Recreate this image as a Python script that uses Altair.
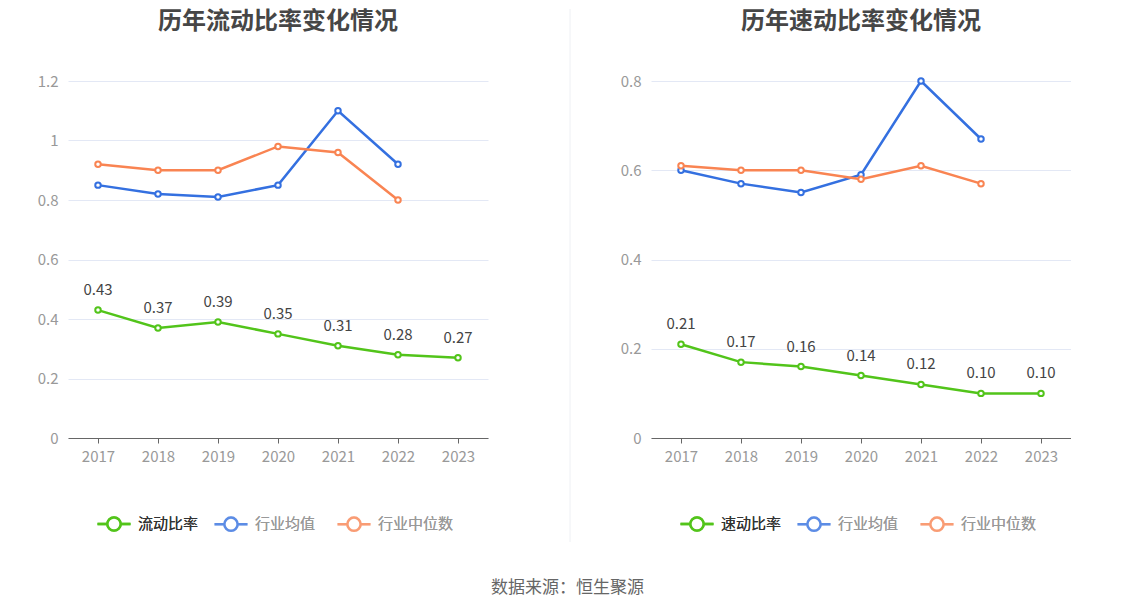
import altair as alt
import pandas as pd

years = ["2017", "2018", "2019", "2020", "2021", "2022", "2023"]

current_ratio = [0.43, 0.37, 0.39, 0.35, 0.31, 0.28, 0.27]
current_mean = [0.85, 0.82, 0.81, 0.85, 1.10, 0.92]
current_median = [0.92, 0.90, 0.90, 0.98, 0.96, 0.80]

quick_ratio = [0.21, 0.17, 0.16, 0.14, 0.12, 0.10, 0.10]
quick_mean = [0.60, 0.57, 0.55, 0.59, 0.80, 0.67]
quick_median = [0.61, 0.60, 0.60, 0.58, 0.61, 0.57]

GREEN = "#52c41a"
BLUE = "#3470e0"
ORANGE = "#f98452"
FONT = "Noto Sans CJK SC"

SYM = "M-1,0L-0.4,0M0.4,0L1,0M-0.4,0A0.4,0.4 0 1,0 0.4,0A0.4,0.4 0 1,0 -0.4,0Z"


def panel(title, main_name, main_vals, mean_vals, median_vals, ymax, yvals):
    main_df = pd.DataFrame({"year": years, "value": main_vals, "series": main_name})
    ind_df = pd.concat([
        pd.DataFrame({"year": years[:len(mean_vals)], "value": mean_vals, "series": "行业均值"}),
        pd.DataFrame({"year": years[:len(median_vals)], "value": median_vals, "series": "行业中位数"}),
    ])
    x = alt.X("year:O", title=None, sort=years,
              scale=alt.Scale(domain=years, paddingOuter=0.5),
              axis=alt.Axis(labelAngle=0, labelColor="#999999", labelFontSize=15, labelFont=FONT,
                            domainColor="#666666", tickColor="#666666", tickSize=5,
                            labelPadding=6, grid=False))
    y = alt.Y("value:Q", title=None,
              scale=alt.Scale(domain=[0, ymax], nice=False),
              axis=alt.Axis(values=yvals, format="~g", labelColor="#999999", labelFontSize=15,
                            labelFont=FONT, domain=False, ticks=False, gridColor="#e3e8f5",
                            labelPadding=10, minExtent=60, maxExtent=60))
    color_main = alt.Color("series:N", scale=alt.Scale(domain=[main_name], range=[GREEN]),
                           legend=alt.Legend(title=None, orient="none", legendX=28, legendY=425,
                                             symbolType=SYM, symbolSize=1089, symbolStrokeWidth=2.5,
                                             symbolFillColor="white", labelFontSize=15, labelFont=FONT,
                                             labelFontWeight="normal",
                                             labelColor="#333333", labelOffset=6, direction="horizontal"))
    stroke_ind = alt.Stroke("series:N", scale=alt.Scale(domain=["行业均值", "行业中位数"], range=[BLUE, ORANGE]),
                            legend=alt.Legend(title=None, orient="none", legendX=145, legendY=425,
                                              symbolType=SYM, symbolSize=1089, symbolStrokeWidth=2.5,
                                              symbolFillColor="white", symbolOpacity=0.55,
                                              labelFontSize=15, labelFont=FONT, labelColor="#999999",
                                              labelFontWeight="normal",
                                              labelOffset=6, columnPadding=16, direction="horizontal"))

    ind_line = alt.Chart(ind_df).mark_line(strokeWidth=2.5).encode(x=x, y=y, stroke=stroke_ind,
                                                                     detail="series:N")
    ind_pt = alt.Chart(ind_df).mark_point(filled=True, fill="white", size=30, strokeWidth=2, opacity=1).encode(
        x=x, y=y, stroke=stroke_ind, detail="series:N")
    main_line = alt.Chart(main_df).mark_line(strokeWidth=2.5).encode(x=x, y=y, color=color_main)
    main_pt = alt.Chart(main_df).mark_point(filled=False, fill="white", fillOpacity=1, size=30,
                                            strokeWidth=2, opacity=1).encode(x=x, y=y, color=color_main)
    labels = alt.Chart(main_df).mark_text(dy=-20, fontSize=15, font=FONT, color="#444444").encode(
        x=x, y=y, text=alt.Text("value:Q", format=".2f"))
    return alt.layer(ind_line, ind_pt, main_line, main_pt, labels).properties(
        width=420, height=357,
        title=alt.TitleParams(title, fontSize=24, font=FONT, fontWeight="bold", color="#464646",
                              anchor="middle", offset=40)
    ).resolve_scale(color="independent", stroke="independent")


left = panel("历年流动比率变化情况", "流动比率", current_ratio, current_mean, current_median,
             1.2, [0, 0.2, 0.4, 0.6, 0.8, 1.0, 1.2])
mid = alt.Chart(pd.DataFrame({"v": [0]})).mark_rule(color="#eef0f4", strokeWidth=1).encode(
    x=alt.value(62), y=alt.value(-72), y2=alt.value(461)).properties(width=62, height=357)
right = panel("历年速动比率变化情况", "速动比率", quick_ratio, quick_mean, quick_median,
              0.8, [0, 0.2, 0.4, 0.6, 0.8])

chart = alt.hconcat(left, mid, right, spacing=20).resolve_scale(
    color="independent", stroke="independent"
).resolve_legend(color="independent", stroke="independent").properties(
    padding=0,
    title=alt.TitleParams("数据来源：恒生聚源", orient="bottom", anchor="middle", fontSize=17,
                          font=FONT, fontWeight="normal", color="#666666", offset=37, dx=28)
).configure_view(stroke="transparent", strokeWidth=0)

chart.save("out.html", embed_options={"renderer": "svg", "actions": False})
